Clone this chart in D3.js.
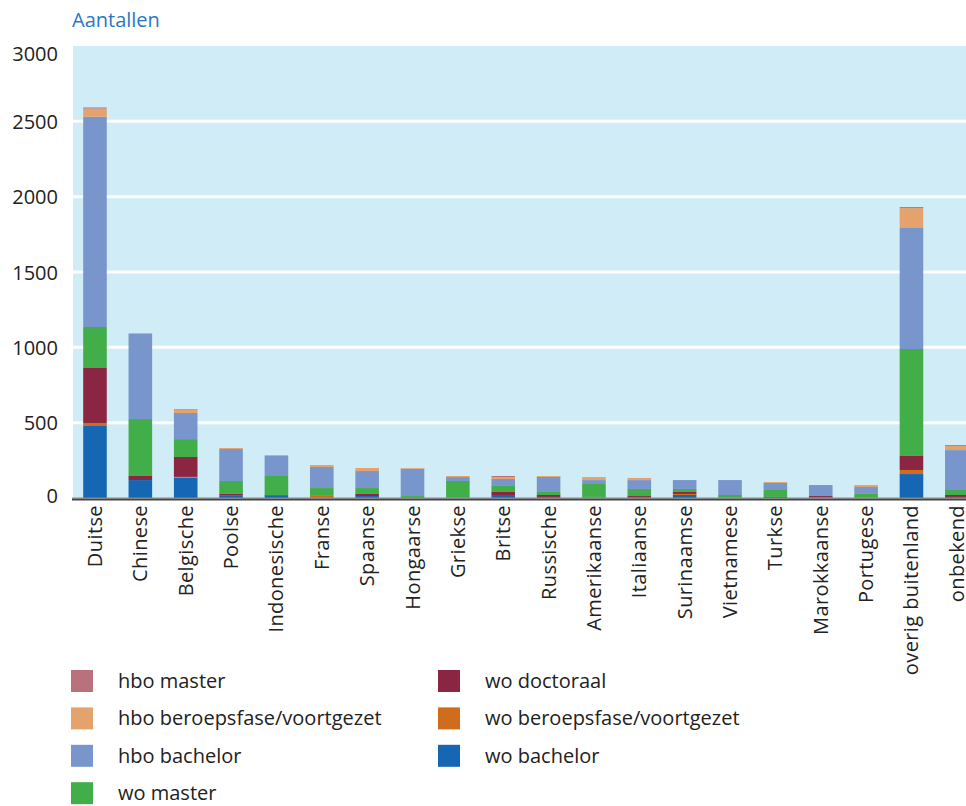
<!DOCTYPE html>
<html>
<head>
<meta charset="utf-8">
<script src="https://cdn.jsdelivr.net/npm/d3@7"></script>
<style>
  body { margin: 0; background: #fff; }
  svg text { font-family: "Open Sans", sans-serif; }
</style>
</head>
<body>
<div id="chart"></div>
<script>
// Categories (nationality)
const categories = ['Duitse', 'Chinese', 'Belgische', 'Poolse', 'Indonesische', 'Franse', 'Spaanse',
  'Hongaarse', 'Griekse', 'Britse', 'Russische', 'Amerikaanse', 'Italiaanse', 'Surinaamse',
  'Vietnamese', 'Turkse', 'Marokkaanse', 'Portugese', 'overig buitenland', 'onbekend'];

// Series, stacked bottom to top
const seriesKeys = ['wo bachelor', 'wo beroepsfase/voortgezet', 'wo doctoraal', 'wo master',
  'hbo bachelor', 'hbo beroepsfase/voortgezet', 'hbo master'];

const woBachelor   = [478, 119, 135, 15, 15, 4, 13, 0, 3, 20, 7, 4, 6, 20, 2, 7, 4, 3, 159, 7];
const woBeroeps    = [20, 0, 5, 0, 0, 10, 0, 0, 0, 0, 0, 3, 0, 7, 0, 0, 0, 0, 27, 0];
const woDoctoraal  = [365, 27, 132, 12, 5, 0, 14, 0, 0, 20, 13, 0, 7, 13, 0, 0, 9, 0, 93, 13];
const woMaster     = [272, 378, 119, 86, 126, 52, 39, 13, 110, 40, 20, 86, 47, 20, 18, 46, 0, 24, 710, 33];
const hboBachelor  = [1395, 566, 173, 212, 133, 140, 113, 181, 26, 46, 100, 26, 59, 59, 99, 47, 73, 46, 803, 265];
const hboBeroeps   = [55, 5, 22, 7, 6, 13, 20, 5, 7, 13, 6, 20, 14, 0, 0, 6, 0, 13, 132, 27];
const hboMaster    = [7, 0, 4, 0, 0, 0, 0, 0, 0, 7, 0, 0, 0, 0, 0, 0, 0, 0, 7, 6];

const yTicks = [0, 500, 1000, 1500, 2000, 2500, 3000];

// Legend order (two columns)
const legendCol1 = ['hbo master', 'hbo beroepsfase/voortgezet', 'hbo bachelor', 'wo master'];
const legendCol2 = ['wo doctoraal', 'wo beroepsfase/voortgezet', 'wo bachelor'];

const colors = {
  'hbo master': '#b9727c',
  'hbo beroepsfase/voortgezet': '#e4a26d',
  'hbo bachelor': '#7896cc',
  'wo master': '#41ae4a',
  'wo doctoraal': '#8b2642',
  'wo beroepsfase/voortgezet': '#cf6d1c',
  'wo bachelor': '#1567b4'
};

const seriesValues = [woBachelor, woBeroeps, woDoctoraal, woMaster, hboBachelor, hboBeroeps, hboMaster];
const table = categories.map((c, i) => {
  const row = {category: c};
  seriesKeys.forEach((k, j) => { row[k] = seriesValues[j][i]; });
  return row;
});

const width = 966, height = 806;
const plot = {left: 73, top: 46, right: 966, bottom: 498};

const svg = d3.select('#chart').append('svg')
  .attr('width', width)
  .attr('height', height);

const x = d3.scaleBand()
  .domain(categories)
  .range([72.3, 979.5])
  .paddingInner(0.48)
  .paddingOuter(0.24);

const y = d3.scaleLinear()
  .domain([0, 3000])
  .range([plot.bottom, plot.top]);

// Plot background
svg.append('rect')
  .attr('x', plot.left)
  .attr('y', plot.top)
  .attr('width', plot.right - plot.left)
  .attr('height', plot.bottom - plot.top)
  .attr('fill', '#d0ecf6');

// Gridlines
svg.append('g')
  .selectAll('line')
  .data(yTicks.filter(d => d > 0 && d < 3000))
  .join('line')
  .attr('x1', plot.left)
  .attr('x2', plot.right)
  .attr('y1', d => y(d))
  .attr('y2', d => y(d))
  .attr('stroke', '#fff')
  .attr('stroke-width', 3);

// Stacked bars
const stacked = d3.stack().keys(seriesKeys)(table);

svg.append('g')
  .selectAll('g')
  .data(stacked)
  .join('g')
  .attr('fill', d => colors[d.key])
  .selectAll('rect')
  .data(d => d)
  .join('rect')
  .attr('x', d => x(d.data.category))
  .attr('width', x.bandwidth())
  .attr('y', d => y(d[1]))
  .attr('height', d => y(d[0]) - y(d[1]));

// Baseline
svg.append('line')
  .attr('x1', plot.left - 1)
  .attr('x2', plot.right)
  .attr('y1', plot.bottom)
  .attr('y2', plot.bottom)
  .attr('stroke', '#8a8a8a')
  .attr('stroke-width', 1);
svg.append('line')
  .attr('x1', plot.left - 1)
  .attr('x2', plot.right)
  .attr('y1', plot.bottom + 1.5)
  .attr('y2', plot.bottom + 1.5)
  .attr('stroke', '#444')
  .attr('stroke-width', 2);

// Y axis labels
const yAxis = svg.append('g')
  .attr('transform', `translate(${plot.left},0)`)
  .call(d3.axisLeft(y).tickValues(yTicks).tickFormat(d3.format('d')).tickSize(0).tickPadding(15));
yAxis.select('.domain').remove();
yAxis.selectAll('text')
  .attr('font-size', 20)
  .attr('fill', '#222')
  .attr('dy', d => d === 3000 ? '0.7em' : (d === 0 ? '0.2em' : '0.36em'));

// X axis labels (rotated)
const xAxis = svg.append('g')
  .attr('transform', `translate(0,${plot.bottom})`)
  .call(d3.axisBottom(x).tickSize(0).tickPadding(0));
xAxis.select('.domain').remove();
xAxis.selectAll('text')
  .attr('font-size', 20)
  .attr('letter-spacing', 0.4)
  .attr('fill', '#222')
  .attr('text-anchor', 'end')
  .attr('transform', 'rotate(-90)')
  .attr('x', -7)
  .attr('y', 0)
  .attr('dy', '0.35em');

// Title
svg.append('text')
  .attr('x', 72)
  .attr('y', 27)
  .attr('font-size', 20)
  .attr('fill', '#2a78c2')
  .text('Aantallen');

// Legend
function drawLegend(items, left) {
  const g = svg.append('g').attr('transform', `translate(${left},0)`);
  const row = g.selectAll('g')
    .data(items)
    .join('g')
    .attr('transform', (d, i) => `translate(0,${681 + i * 37.4})`);
  row.append('rect')
    .attr('x', 0)
    .attr('y', -11)
    .attr('width', 22)
    .attr('height', 22)
    .attr('fill', d => colors[d]);
  row.append('text')
    .attr('x', 47)
    .attr('dy', '0.35em')
    .attr('font-size', 20)
    .attr('fill', '#222')
    .text(d => d);
}
drawLegend(legendCol1, 71);
drawLegend(legendCol2, 438);
</script>
</body>
</html>
